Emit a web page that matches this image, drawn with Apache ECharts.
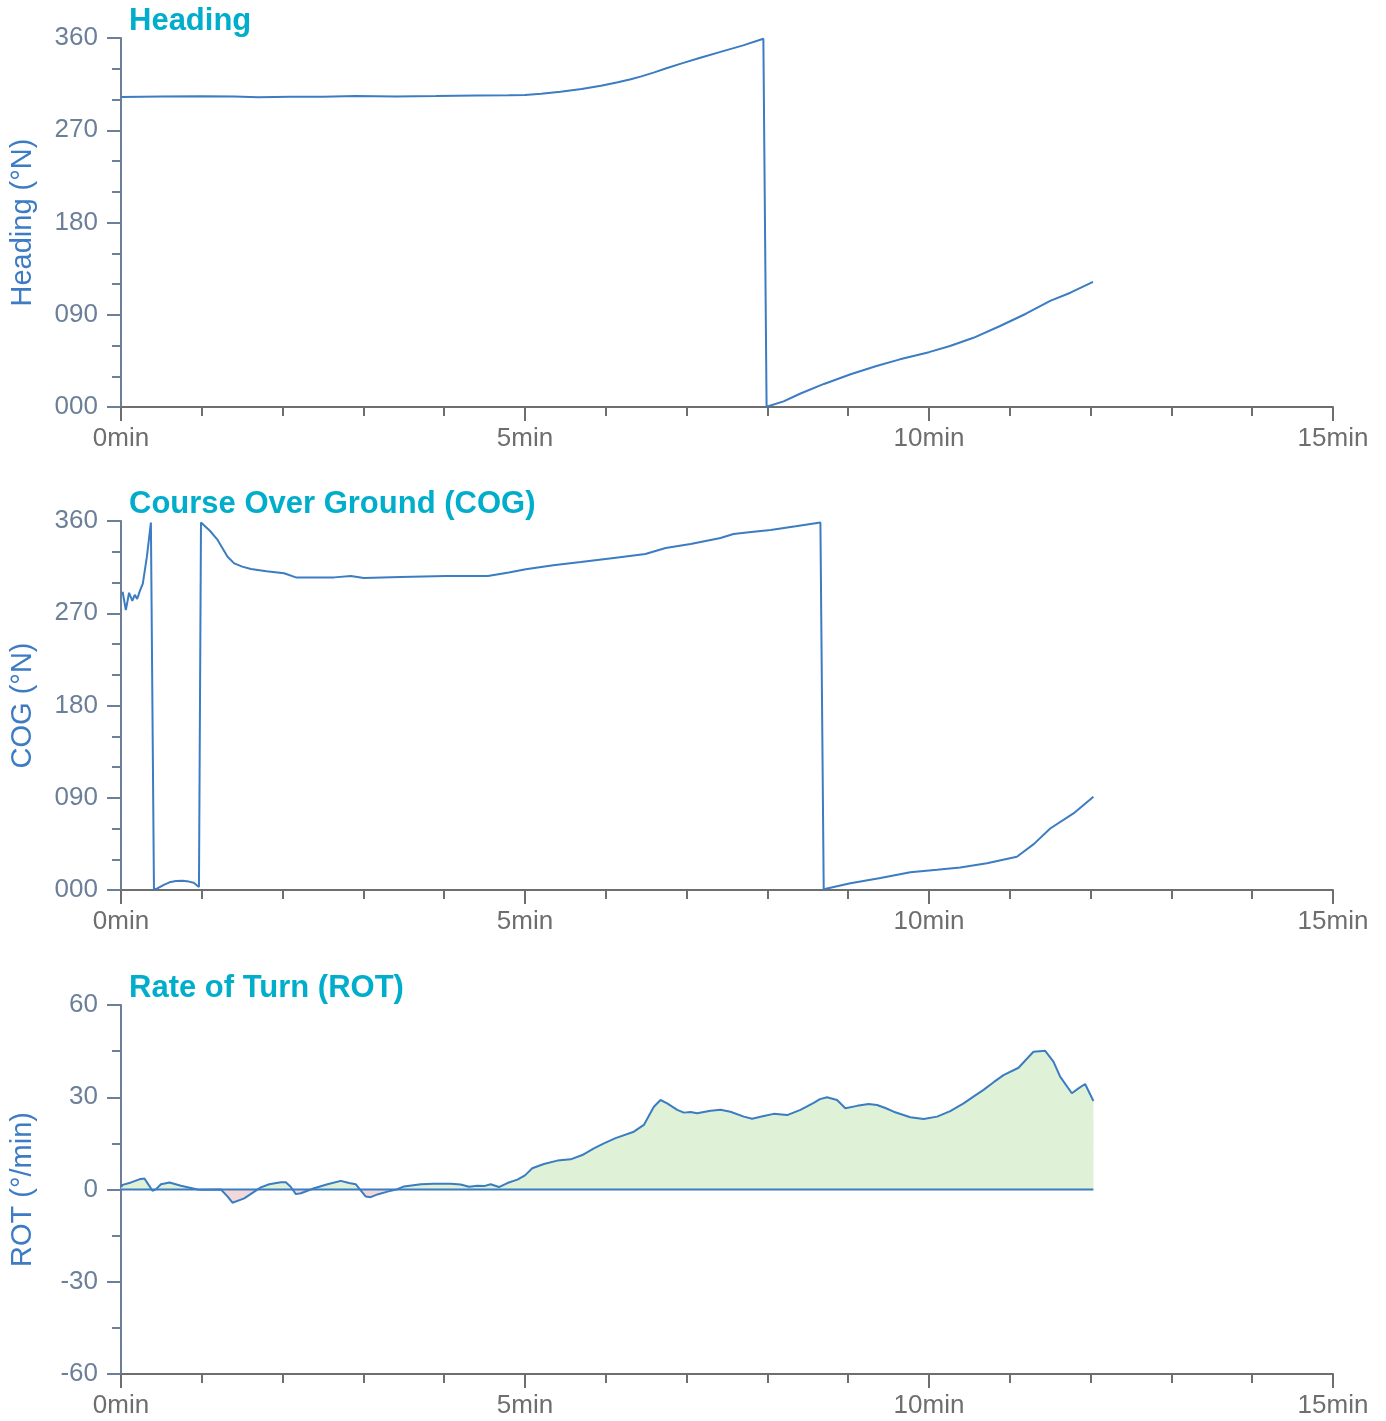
<!DOCTYPE html>
<html>
<head>
<meta charset="utf-8">
<script src="https://cdn.jsdelivr.net/npm/echarts@6/dist/echarts.min.js"></script>
<style>
  html, body { margin: 0; padding: 0; background: #fff; }
  #main { width: 1386px; height: 1421px; }
</style>
</head>
<body>
<div id="main"></div>
<script>
// values, time in minutes
var headingData = [
  [0, 302.5], [0.5, 303], [1, 303.2], [1.4, 303], [1.7, 302.3], [2.1, 302.8], [2.5, 302.7],
  [2.9, 303.3], [3.4, 302.9], [3.9, 303.3], [4.4, 303.8], [4.8, 304.1], [5.0, 304.5],
  [5.2, 305.6], [5.44, 307.6], [5.7, 310.2], [5.94, 313.5], [6.15, 316.8], [6.31, 319.8],
  [6.45, 322.8], [6.6, 326.5], [6.75, 330.5], [6.95, 335.5], [7.17, 340.8],
  [7.42, 346.5], [7.7, 352.8], [7.95, 359.2], [7.99, 0.3], [8.2, 5.5], [8.41, 13.2],
  [8.7, 22.5], [9.03, 32], [9.35, 40], [9.64, 46.5], [10.0, 53.5], [10.26, 59.5],
  [10.55, 67.5], [10.88, 79], [11.2, 91], [11.5, 103.5], [11.75, 111.5], [12.03, 122]
];

var cogData = [
  [0.02, 291], [0.06, 273], [0.1, 290], [0.14, 282], [0.17, 288], [0.2, 284],
  [0.235, 292], [0.27, 299], [0.32, 325], [0.37, 358.5], [0.408, 0.5], [0.45, 1.5],
  [0.53, 5], [0.6, 7.5], [0.68, 8.7], [0.76, 9], [0.84, 8.2], [0.9, 7], [0.965, 3], [0.99, 358.5],
  [1.01, 357.7], [1.1, 350.5], [1.196, 341.5], [1.26, 333], [1.319, 325.2], [1.401, 318.7],
  [1.5, 315.5], [1.608, 313.2], [1.8, 311], [2.019, 309], [2.164, 305], [2.638, 305],
  [2.844, 306.3], [3.005, 304.4], [3.46, 305.4], [4.02, 306.3], [4.54, 306.3],
  [4.8, 309.8], [5.01, 313], [5.35, 316.8], [5.69, 320], [6.1, 324], [6.49, 327.8],
  [6.74, 333.7], [7.05, 337.6], [7.42, 343.4], [7.58, 347.3], [7.8, 349.2],
  [8.04, 351.2], [8.35, 354.8], [8.656, 358.5], [8.697, 0.8], [9.027, 6.5],
  [9.4, 11.8], [9.769, 17.3], [10.1, 19.8], [10.387, 22], [10.717, 26], [11.088, 32.5],
  [11.3, 45], [11.5, 60], [11.788, 74.7], [12.035, 91]
];

var rotData = [
  [0, 0.8], [0.02, 1.5], [0.124, 2.3], [0.227, 3.3], [0.29, 3.6], [0.33, 2.0], [0.39, -0.4],
  [0.43, 0.05], [0.495, 1.7], [0.6, 2.3], [0.742, 1.2], [0.948, 0], [0.99, -0.1],
  [1.237, 0], [1.32, -2.3], [1.38, -4.3], [1.525, -2.9], [1.73, 0.7], [1.834, 1.7],
  [1.978, 2.35], [2.04, 2.35], [2.10, 0.9], [2.164, -1.5], [2.226, -1.2], [2.39, 0.4],
  [2.556, 1.7], [2.72, 2.8], [2.823, 2.1], [2.906, 1.7], [3.03, -2.3], [3.09, -2.5],
  [3.174, -1.6], [3.298, -0.7], [3.42, 0.1], [3.503, 1.0], [3.71, 1.7], [3.874, 1.9],
  [4.08, 1.9], [4.204, 1.6], [4.307, 0.9], [4.41, 1.2], [4.493, 1.1], [4.575, 1.7],
  [4.678, 0.8], [4.782, 2.1], [4.906, 3.2], [5.0, 4.6], [5.09, 6.9], [5.234, 8.3],
  [5.4, 9.4], [5.565, 9.8], [5.709, 11.2], [5.853, 13.4], [5.977, 15.0], [6.121, 16.7],
  [6.347, 18.8], [6.471, 21], [6.53, 23.8], [6.595, 26.9], [6.677, 29.1], [6.76, 28.0],
  [6.884, 25.9], [6.966, 25.0], [7.05, 25.2], [7.13, 24.8], [7.296, 25.6], [7.42, 25.9],
  [7.543, 25.3], [7.708, 23.7], [7.811, 23.0], [7.955, 23.9], [8.079, 24.6],
  [8.244, 24.2], [8.409, 25.9], [8.573, 28.2], [8.65, 29.4], [8.738, 30.0], [8.862, 29.1],
  [8.965, 26.4], [9.11, 27.2], [9.253, 27.8], [9.357, 27.5], [9.46, 26.5], [9.563, 25.3],
  [9.769, 23.5], [9.933, 22.9], [10.1, 23.7], [10.263, 25.5], [10.428, 28.0],
  [10.55, 30.2], [10.675, 32.4], [10.8, 34.9], [10.922, 37.2], [11.108, 39.6],
  [11.2, 42.2], [11.293, 44.8], [11.438, 45.1], [11.54, 41.6], [11.623, 36.7],
  [11.768, 31.3], [11.85, 32.9], [11.932, 34.3], [12.035, 28.8]
];

var rotZero = [[0, 0], [12.035, 0]];

var titles = ['Heading', 'Course Over Ground (COG)', 'Rate of Turn (ROT)'];
var yNames = ['Heading (°N)', 'COG (°N)', 'ROT (°/min)'];

var chart = echarts.init(document.getElementById('main'));

var FONT = 'Liberation Sans, Arial, sans-serif';
var LINE = '#3b7cc2';
var gridTops = [38, 521, 1005];

function xAxisCfg(i) {
  return {
    type: 'value', gridIndex: i, min: 0, max: 15, interval: 5,
    axisLine: { onZero: false, lineStyle: { color: '#6e6e6e', width: 2 } },
    axisTick: { length: 14, lineStyle: { color: '#6e6e6e', width: 2 } },
    minorTick: { show: true, splitNumber: 5, length: 9, lineStyle: { color: '#6e6e6e', width: 2 } },
    splitLine: { show: false },
    axisLabel: { color: '#6e6e6e', fontSize: 26, fontFamily: FONT, margin: 19, formatter: '{value}min' }
  };
}

function yAxisCfg(i, min, max, interval, minorSplit, fmt) {
  return {
    type: 'value', gridIndex: i, min: min, max: max, interval: interval,
    name: yNames[i], nameLocation: 'middle', nameGap: 84, nameRotate: 90,
    nameTextStyle: { color: '#3d7cc4', fontSize: 29, fontFamily: FONT },
    axisLine: { show: true, lineStyle: { color: '#6b7f99', width: 2 } },
    axisTick: { show: true, length: 14, lineStyle: { color: '#6b7f99', width: 2 } },
    minorTick: { show: true, splitNumber: minorSplit, length: 9, lineStyle: { color: '#6b7f99', width: 2 } },
    splitLine: { show: false },
    axisLabel: { color: '#6b7f99', fontSize: 26, fontFamily: FONT, margin: 23, formatter: fmt }
  };
}

var pad3 = function (v) { return String(v).padStart(3, '0'); };

var option = {
  animation: false,
  title: titles.map(function (t, i) {
    return {
      text: t, left: 124, top: gridTops[i] - 37,
      textStyle: { color: '#00aecb', fontSize: 31, fontWeight: 'bold', fontFamily: FONT }
    };
  }),
  grid: gridTops.map(function (top) {
    return { left: 120, right: 53, top: top, height: 369 };
  }),
  xAxis: [xAxisCfg(0), xAxisCfg(1), xAxisCfg(2)],
  yAxis: [
    yAxisCfg(0, 0, 360, 90, 3, pad3),
    yAxisCfg(1, 0, 360, 90, 3, pad3),
    yAxisCfg(2, -60, 60, 30, 2, '{value}')
  ],
  visualMap: {
    show: false, type: 'piecewise', seriesIndex: 2, dimension: 1,
    pieces: [
      { gte: 0, lte: 1000, color: '#dff1d7' },
      { gte: -1000, lt: 0, color: '#f3d8da' }
    ]
  },
  series: [
    {
      type: 'line', xAxisIndex: 0, yAxisIndex: 0, data: headingData,
      showSymbol: false, lineStyle: { color: LINE, width: 2 }, itemStyle: { color: LINE }
    },
    {
      type: 'line', xAxisIndex: 1, yAxisIndex: 1, data: cogData,
      showSymbol: false, lineStyle: { color: LINE, width: 2 }, itemStyle: { color: LINE }
    },
    {
      // fill only, coloured by sign
      type: 'line', xAxisIndex: 2, yAxisIndex: 2, data: rotData,
      showSymbol: false, lineStyle: { width: 0, opacity: 0 },
      areaStyle: { opacity: 1, origin: 0 }
    },
    {
      type: 'line', xAxisIndex: 2, yAxisIndex: 2, data: rotZero,
      showSymbol: false, lineStyle: { color: LINE, width: 2 }, itemStyle: { color: LINE }
    },
    {
      type: 'line', xAxisIndex: 2, yAxisIndex: 2, data: rotData,
      showSymbol: false, lineStyle: { color: LINE, width: 2 }, itemStyle: { color: LINE }
    }
  ]
};

chart.setOption(option);
</script>
</body>
</html>
